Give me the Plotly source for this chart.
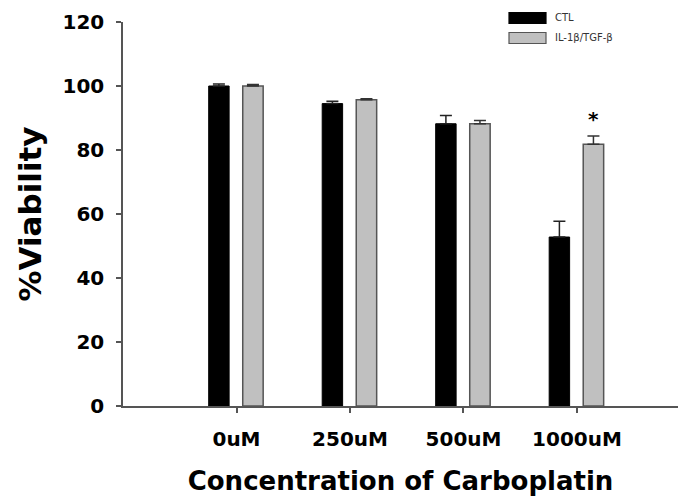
import plotly.graph_objects as go

# Cell viability (%) after carboplatin treatment
concentrations = ["0uM", "250uM", "500uM", "1000uM"]
ctl_mean = [100.0, 94.5, 88.2, 52.8]
ctl_err = [0.6, 0.7, 2.6, 4.9]
tgf_mean = [100.0, 95.7, 88.2, 81.8]
tgf_err = [0.5, 0.3, 1.0, 2.6]
series_names = ["CTL", "IL-1β/TGF-β"]
significant = [False, False, False, True]

pos = list(range(len(concentrations)))
bar_w = 0.18
bold_font = "DejaVu Sans"

fig = go.Figure()
fig.add_trace(go.Bar(
    x=pos, y=ctl_mean, name=series_names[0],
    width=bar_w, offset=-0.245,
    marker=dict(color="#000000", line=dict(color="#000000", width=1)),
    error_y=dict(type="data", array=ctl_err, arrayminus=[0] * len(ctl_err),
                 symmetric=False, color="#222222", thickness=1.5, width=6),
    showlegend=False,
))
fig.add_trace(go.Bar(
    x=pos, y=tgf_mean, name=series_names[1],
    width=bar_w, offset=0.055,
    marker=dict(color="#c0c0c0", line=dict(color="#555555", width=1.5)),
    error_y=dict(type="data", array=tgf_err, arrayminus=[0] * len(tgf_err),
                 symmetric=False, color="#333333", thickness=1.5, width=6),
    showlegend=False,
))

# significance markers above the treated bars
for i, sig in enumerate(significant):
    if sig:
        fig.add_annotation(
            x=i + 0.055 + bar_w / 2, y=tgf_mean[i] + tgf_err[i],
            text="<b>*</b>", showarrow=False, yanchor="bottom", yshift=3,
            font=dict(family=bold_font, size=20, color="#000000"),
        )

# legend drawn as boxes with labels in the top-right corner
legend_items = [("#000000", "#000000"), ("#c0c0c0", "#555555")]
for k, (fill, edge) in enumerate(legend_items):
    y_top = 12.5 + k * 20
    fig.add_shape(
        type="rect", xref="paper", yref="paper",
        x0=(509 - 123) / 555, x1=(546 - 123) / 555,
        y0=1 - (y_top + 11 - 22) / 384, y1=1 - (y_top - 22) / 384,
        fillcolor=fill, line=dict(color=edge, width=1.2),
    )
    fig.add_annotation(
        xref="paper", yref="paper",
        x=(553 - 123) / 555, y=1 - (y_top + 5.5 - 22) / 384,
        text=series_names[k], showarrow=False, xanchor="left", yanchor="middle",
        font=dict(family="DejaVu Sans", size=10, color="#333333"),
    )

fig.update_layout(
    width=679, height=502,
    margin=dict(l=123, r=1, t=22, b=96),
    paper_bgcolor="white", plot_bgcolor="white",
    barmode="overlay",
    font=dict(family=bold_font, color="#000000"),
    xaxis=dict(
        range=[-1.0, 3.89], tickvals=pos, ticktext=concentrations,
        showline=True, linecolor="#555555", linewidth=1.5,
        ticks="outside", ticklen=5, tickcolor="#555555", tickwidth=1.5,
        ticklabelstandoff=9,
        showgrid=False, zeroline=False,
        tickfont=dict(family=bold_font, size=20, color="#000000", weight="bold"),
        title=dict(text="Concentration of Carboplatin", standoff=22,
                   font=dict(family=bold_font, size=26, color="#000000", weight="bold")),
    ),
    yaxis=dict(
        range=[0, 120], tickvals=[0, 20, 40, 60, 80, 100, 120],
        showline=True, linecolor="#555555", linewidth=1.5,
        ticks="outside", ticklen=5, tickcolor="#555555", tickwidth=1.5,
        ticklabelstandoff=8,
        showgrid=False, zeroline=False,
        tickfont=dict(family=bold_font, size=20, color="#000000", weight="bold"),
        title=dict(text="%Viability", standoff=12,
                   font=dict(family=bold_font, size=31, color="#000000", weight="bold")),
    ),
)

fig.write_html("out.html")
